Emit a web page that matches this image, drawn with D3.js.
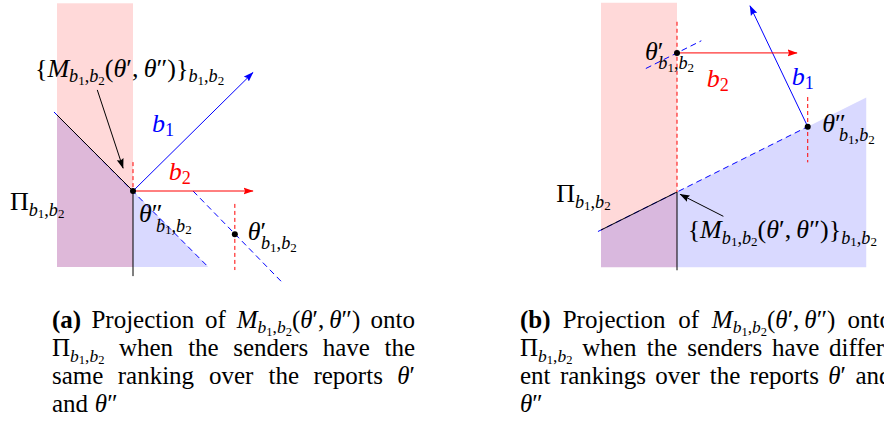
<!DOCTYPE html>
<html>
<head>
<meta charset="utf-8">
<script src="https://cdn.jsdelivr.net/npm/d3@7"></script>
<style>
  body { margin: 0; background: #fff; }
  svg { display: block; }
</style>
</head>
<body>
<svg id="fig" width="884" height="432" font-family="Liberation Serif, DejaVu Serif, serif"></svg>
<script>
// geometry in diagram units: the projection point M is the origin, y points up

// panel (a): same ranking
var pinkA = [[-1, -1], [0, 2.47]];
var regionA = [[-1, 1], [0, 0], [0.99, -1], [-1, -1]];
var planeA = [[-1.04, 1.04], [0.99, -1]];
var planeSolidA = [[-1, 1], [0, 0]];
var isoA = [[0.79, 0], [1.97, -1.21]];
var stemA = [[0, 0], [0, -1.12]];
var redDashA = [[[0, 0.38], [0, 0]], [[1.34, -0.17], [1.34, -1.04]]];
var b1A = [[0, 0], [1.58, 1.56]];
var b2A = [[0, 0], [1.58, 0]];
var dotsA = [[0, 0], [1.34, -0.57]];
var pointerA = [[-0.47, 1.33], [-0.13, 0.3]];

// panel (b): different rankings
var pinkB = [[-1, -0.99], [0, 2.49]];
var regionB = [[-1, -0.5], [2.49, 1.245], [2.49, -0.99], [-1, -0.99]];
var planeB = [[-1.04, -0.52], [1.72, 0.86]];
var planeSolidB = [[-1, -0.5], [0, 0]];
var isoB = [[-0.41, 1.625], [0.32, 1.99]];
var stemB = [[0, 0], [0, -1.03]];
var redDashB = [[[0, 2.24], [0, 0]], [[1.72, 1.25], [1.72, 0.39]]];
var b1B = [[1.72, 0.86], [0.96, 2.45]];
var b2B = [[0, 1.83], [1.58, 1.83]];
var dotsB = [[0, 1.83], [1.72, 0.86]];
var pointerB = [[0.61, -0.32], [0.04, -0.03]];

var svg = d3.select('#fig');
var RED = '#ff0000', BLUE = '#0000ff';

var defs = svg.append('defs');
[['red', RED], ['blue', BLUE], ['black', '#000']].forEach(function (c) {
  defs.append('marker')
    .attr('id', 'arr-' + c[0])
    .attr('viewBox', '0 0 10 8')
    .attr('refX', 9.5).attr('refY', 4)
    .attr('markerWidth', 10).attr('markerHeight', 8)
    .attr('markerUnits', 'userSpaceOnUse')
    .attr('orient', 'auto')
    .append('path')
    .attr('d', 'M0,0.5 L10,4 L0,7.5 L1.5,4 Z')
    .attr('fill', c[1]);
});

// text pieces: t text, f font (r/i/b), s size factor, sh baseline shift (em), dx (em)
function P(t, f, s, sh, dx) { return { t: t, f: f || 'r', s: s || 1, sh: sh || 0, dx: dx || 0 }; }
function sub(d, dx) {
  return [P('b', 'i', 0.7, d, dx), P('1', 'r', 0.5, d + 0.1), P(',', 'r', 0.7, d),
          P('b', 'i', 0.7, d), P('2', 'r', 0.5, d + 0.1)];
}

function word(g, parts, size, color) {
  var t = g.append('text').attr('fill', color || '#000');
  var prev = 0;
  parts.forEach(function (p) {
    var ts = t.append('tspan').text(p.t)
      .attr('font-size', size * p.s)
      .attr('dy', (p.sh - prev) * size)
      .attr('font-style', p.f === 'i' ? 'italic' : 'normal')
      .attr('font-weight', p.f === 'b' ? 'bold' : 'normal');
    if (p.dx) ts.attr('dx', p.dx * size);
    prev = p.sh;
  });
  return t;
}

function label(g, x, y, parts, size, color) {
  word(g, parts, size, color).attr('x', x).attr('y', y);
}

// lay out a caption line word by word, stretched to the given width
function line(g, x, y, words, size, width) {
  var nodes = words.map(function (w) { return word(g, w, size).attr('y', y); });
  var wid = nodes.map(function (n) { var b = n.node().getBBox(); return b.x + b.width; });
  var total = d3.sum(wid);
  var gap = width ? (width - total) / (words.length - 1) : size * 0.25;
  var cx = x;
  nodes.forEach(function (n, i) { n.attr('x', cx); cx += wid[i] + gap; });
}

function drawPanel(o) {
  var x = d3.scaleLinear().domain([0, 1]).range([o.ox, o.ox + 76]);
  var y = d3.scaleLinear().domain([0, 1]).range([o.oy, o.oy - 76]);
  var g = svg.append('g');
  var ln = d3.line().x(function (d) { return x(d[0]); }).y(function (d) { return y(d[1]); });

  var pink = function () {
    g.append('rect')
      .attr('x', x(o.pink[0][0])).attr('y', y(o.pink[1][1]))
      .attr('width', x(o.pink[1][0]) - x(o.pink[0][0]))
      .attr('height', y(o.pink[0][1]) - y(o.pink[1][1]))
      .attr('fill', RED).attr('fill-opacity', 0.15);
  };
  var blue = function () {
    g.append('path').attr('d', ln(o.region) + 'Z')
      .attr('fill', BLUE).attr('fill-opacity', 0.15);
  };
  if (o.pinkOnTop) { blue(); pink(); } else { pink(); blue(); }

  var seg = function (pts, color, dash, marker) {
    var p = g.append('path').attr('d', ln(pts)).attr('fill', 'none')
      .attr('stroke', color).attr('stroke-width', 1);
    if (dash) p.attr('stroke-dasharray', dash);
    if (marker) p.attr('marker-end', 'url(#arr-' + marker + ')');
  };
  seg(o.plane, BLUE, '6,4');
  seg(o.iso, BLUE, '6,4');
  seg(o.planeSolid, '#000');
  seg(o.stem, '#000');
  o.redDash.forEach(function (d) { seg(d, RED, '4,3'); });
  seg(o.b1, BLUE, null, 'blue');
  seg(o.b2, RED, null, 'red');
  seg(o.pointer, '#000', null, 'black');

  g.selectAll('circle.dot').data(o.dots).enter().append('circle')
    .attr('cx', function (d) { return x(d[0]); })
    .attr('cy', function (d) { return y(d[1]); })
    .attr('r', 3).attr('fill', '#000');

  o.labels.forEach(function (l) {
    label(g, x(l[0]), y(l[1]), l[2], l[3], l[4]);
  });
}

var Mset = [P('{'), P('M', 'i')].concat(sub(0.2), [P('('), P('θ', 'i'), P('′'), P(','),
  P('θ', 'i', 1, 0, 0.2), P('″'), P(')'), P('}')], sub(0.2));
var Pi = [P('Π')].concat(sub(0.22));
var thP = [P('θ', 'i'), P('′')].concat(sub(0.36, -0.2));
var thPP = [P('θ', 'i'), P('″')].concat(sub(0.36, -0.26));
var bb1 = [P('b', 'i'), P('1', 'r', 0.7, 0.15)];
var bb2 = [P('b', 'i'), P('2', 'r', 0.7, 0.15)];

drawPanel({
  ox: 133, oy: 191, pink: pinkA, region: regionA, pinkOnTop: true,
  plane: planeA, planeSolid: planeSolidA, iso: isoA, stem: stemA, redDash: redDashA,
  b1: b1A, b2: b2A, dots: dotsA, pointer: pointerA,
  labels: [
    [-1.29, 1.5, Mset, 26],
    [0.25, 0.78, bb1, 26, BLUE],
    [0.47, 0.14, bb2, 26, RED],
    [-1.62, -0.25, Pi, 26],
    [0.08, -0.41, thPP, 26],
    [1.51, -0.64, thP, 26]
  ]
});

drawPanel({
  ox: 677, oy: 192, pink: pinkB, region: regionB, pinkOnTop: false,
  plane: planeB, planeSolid: planeSolidB, iso: isoB, stem: stemB, redDash: redDashB,
  b1: b1B, b2: b2B, dots: dotsB, pointer: pointerB,
  labels: [
    [-0.42, 1.74, thP, 26],
    [0.39, 1.38, bb2, 26, RED],
    [1.51, 1.41, bb1, 26, BLUE],
    [1.91, 0.79, thPP, 26],
    [-1.59, -0.13, Pi, 26],
    [0.14, -0.61, Mset, 26]
  ]
});

// captions
var capSize = 25;
var Marg = [P('M', 'i')].concat(sub(0.2), [P('('), P('θ', 'i'), P('′'), P(','),
  P('θ', 'i', 1, 0, 0.2), P('″'), P(')')]);
function words(str) { return str.split(' ').map(function (w) { return [P(w)]; }); }
var thetaP = [P('θ', 'i'), P('′')];
var thetaPP = [P('θ', 'i'), P('″')];

var cap = svg.append('g');
function caption(x, w, tag, l2, l3, l4) {
  line(cap, x, 328, [[P(tag, 'b')]].concat(words('Projection of'), [Marg], words('onto')), capSize, w);
  line(cap, x, 356, [Pi].concat(words(l2)), capSize, w);
  line(cap, x, 384, l3, capSize, w);
  line(cap, x, 412, l4, capSize);
}
caption(52, 363, '(a)', 'when the senders have the',
  words('same ranking over the reports').concat([thetaP]),
  words('and').concat([thetaPP]));
caption(520, 372, '(b)', 'when the senders have differ-',
  words('ent rankings over the reports').concat([thetaP], words('and')),
  [thetaPP]);
</script>
</body>
</html>
